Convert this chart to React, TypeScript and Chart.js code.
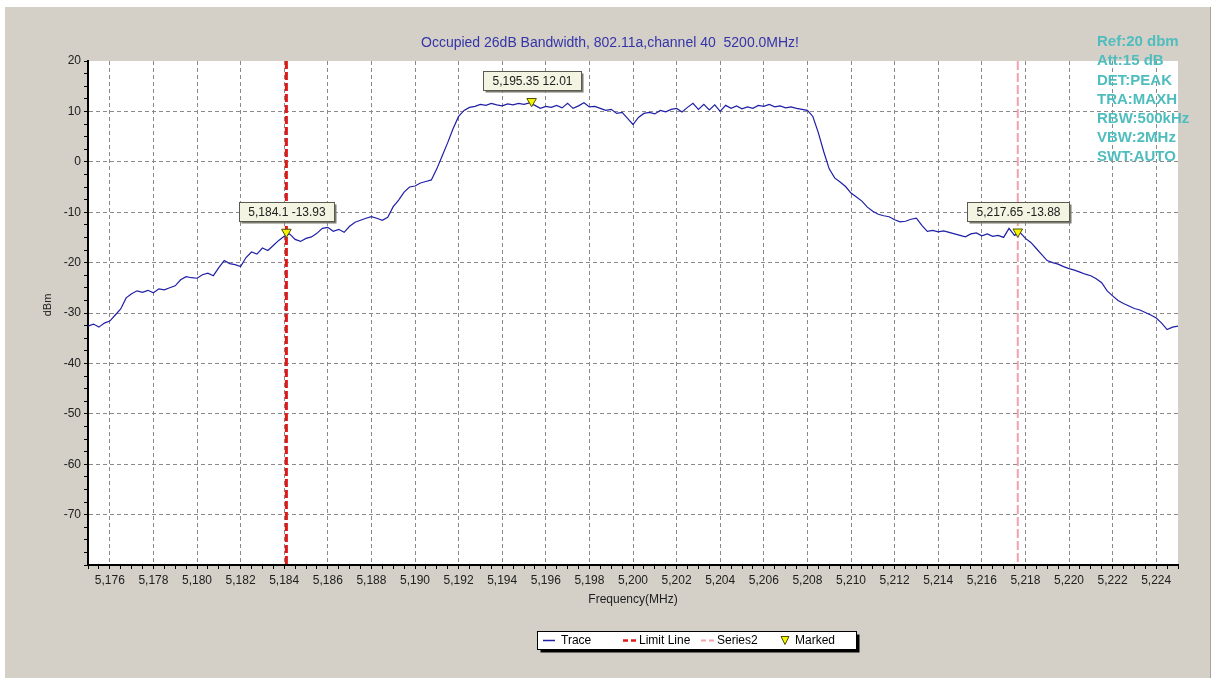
import React, { useEffect, useRef } from "react";
import { Chart, registerables } from "chart.js";

Chart.register(...registerables);

// ---------- data ----------
const TITLE = "Occupied 26dB Bandwidth, 802.11a,channel 40  5200.0MHz!";
const INFO_LINES = ["Ref:20 dbm", "Att:15 dB", "DET:PEAK", "TRA:MAXH", "RBW:500kHz", "VBW:2MHz", "SWT:AUTO"];
const X_TITLE = "Frequency(MHz)";
const Y_TITLE = "dBm";

const X_MIN = 5175;
const X_MAX = 5225;
const Y_MIN = -80;
const Y_MAX = 20;

// sweep points: 5175.00 MHz .. 5225.00 MHz every 0.25 MHz
const FREQ_START = 5175;
const FREQ_STEP = 0.25;
const TRACE_DBM = [
  -32.6, -32.2, -32.8, -32.0, -31.6, -30.4, -29.2, -27.0, -26.2, -25.6,
  -25.9, -25.5, -26.0, -25.2, -25.4, -25.0, -24.6, -23.4, -22.8, -23.0,
  -23.1, -22.4, -22.1, -22.6, -21.0, -19.6, -20.2, -20.4, -20.8, -19.0,
  -17.9, -18.3, -17.1, -17.6, -16.6, -15.6, -14.8, -14.3, -15.4, -15.8,
  -15.2, -14.9, -14.2, -13.2, -13.0, -13.8, -13.4, -14.0, -12.8, -12.0,
  -11.6, -11.2, -10.9, -11.2, -11.6, -11.0, -8.9, -7.6, -6.0, -5.0,
  -4.8, -4.2, -3.9, -3.6, -1.4, 1.2, 3.8, 6.6, 9.0, 10.2,
  10.8, 11.0, 11.4, 11.2, 11.6, 11.3, 11.1, 11.5, 11.3, 11.6,
  11.4, 11.7, 11.2, 10.6, 11.0, 10.8, 11.2, 10.7, 11.6, 10.6,
  11.1, 11.7, 10.9, 11.0, 10.6, 10.2, 10.4, 9.6, 9.8, 8.6,
  7.4, 8.8, 9.6, 9.8, 9.5, 10.2, 9.9, 10.4, 10.6, 9.9,
  10.8, 11.6, 10.4, 11.4, 10.3, 11.3, 10.0, 11.2, 10.6, 11.1,
  10.5, 10.9, 10.6, 11.2, 11.0, 11.4, 10.9, 11.1, 10.7, 10.9,
  10.6, 10.4, 10.2, 9.0, 5.8, 2.0, -1.4, -3.2, -4.0, -4.9,
  -6.2, -7.0, -7.8, -9.0, -9.8, -10.4, -10.7, -10.9, -11.5, -11.9,
  -11.8, -11.4, -11.2, -12.6, -13.8, -13.6, -13.9, -13.7, -14.0, -14.3,
  -14.6, -14.9, -14.3, -14.1, -14.7, -14.3, -14.8, -14.6, -15.0, -13.2,
  -14.6, -14.0, -15.2, -16.0, -17.2, -18.4, -19.6, -20.0, -20.3, -20.8,
  -21.2, -21.5, -21.9, -22.3, -22.6, -23.2, -24.0, -25.6, -26.6, -27.5,
  -28.1, -28.6, -29.1, -29.4, -29.9, -30.4, -31.0, -32.0, -33.3, -32.8,
  -32.6,
];

const MARKER_FREQ = [5184.1, 5195.35, 5217.65];
const MARKER_DBM = [-13.93, 12.01, -13.88];
const MARKER_LABELS = ["5,184.1 -13.93", "5,195.35 12.01", "5,217.65 -13.88"];

const LIMIT_LINE_FREQ = 5184.1;
const SERIES2_FREQ = 5217.65;

const LEGEND_LABELS = ["Trace", "Limit Line", "Series2", "Marked"];

// ---------- styles ----------
const FONT = '"Liberation Sans", Arial, sans-serif';
const PANEL_BG = "#d4d0c8";
const TRACE_COLOR = "#1f1fa6";
const LIMIT_COLOR = "#e01818";
const SERIES2_COLOR = "#f2a2aa";
const MARK_FILL = "#f4f400";
const MARK_BORDER = "#505000";
const GRID_COLOR = "#8a8a8a";
const INFO_COLOR = "#4fbdbd";
const TITLE_COLOR = "#3434a8";

const isInt = (v: number) => Math.abs(v - Math.round(v)) < 1e-6;
const fmtThousands = (v: number) => {
  const s = String(Math.round(v));
  return s.length > 3 ? s.slice(0, s.length - 3) + "," + s.slice(s.length - 3) : s;
};

const backgroundPlugin = {
  id: "bgPanel",
  beforeDraw(chart: any) {
    const { ctx, width, height, chartArea } = chart;
    ctx.save();
    ctx.fillStyle = "#ffffff";
    ctx.fillRect(0, 0, width, height);
    ctx.fillStyle = PANEL_BG;
    ctx.fillRect(5, 7, 1206, height - 7);
    ctx.fillStyle = "#a8a49c";
    ctx.fillRect(1210, 7, 1, height - 7);
    ctx.fillStyle = "#ffffff";
    ctx.fillRect(chartArea.left, chartArea.top, chartArea.right - chartArea.left, chartArea.bottom - chartArea.top);
    ctx.restore();
  },
};

const overlayPlugin = {
  id: "overlays",
  afterDraw(chart: any) {
    const { ctx, chartArea, scales } = chart;
    const xs = scales.x;
    const ys = scales.y;
    ctx.save();

    // title
    ctx.fillStyle = TITLE_COLOR;
    ctx.font = `14px ${FONT}`;
    ctx.textAlign = "center";
    ctx.textBaseline = "middle";
    ctx.fillText(TITLE, 610, 43);

    // axis titles
    ctx.fillStyle = "#202020";
    ctx.font = `12px ${FONT}`;
    ctx.fillText(X_TITLE, (chartArea.left + chartArea.right) / 2, 600);
    ctx.save();
    ctx.translate(48, 305);
    ctx.rotate(-Math.PI / 2);
    ctx.font = `11px ${FONT}`;
    ctx.fillText(Y_TITLE, 0, 0);
    ctx.restore();

    // marker labels
    ctx.font = `12px ${FONT}`;
    for (let i = 0; i < MARKER_FREQ.length; i++) {
      const px = xs.getPixelForValue(MARKER_FREQ[i]);
      const py = ys.getPixelForValue(MARKER_DBM[i]);
      const tw = ctx.measureText(MARKER_LABELS[i]).width;
      const w = Math.round(tw + 18);
      const h = 19;
      const bx = Math.round(px - w / 2) + 0.5;
      const by = Math.round(py - 11 - h) + 0.5;
      ctx.fillStyle = "#7a7a70";
      ctx.fillRect(bx + 2, by + 2, w, h);
      ctx.fillStyle = "#f4f4e2";
      ctx.fillRect(bx, by, w, h);
      ctx.strokeStyle = "#5a5a50";
      ctx.lineWidth = 1;
      ctx.strokeRect(bx, by, w, h);
      ctx.fillStyle = "#202020";
      ctx.textAlign = "center";
      ctx.fillText(MARKER_LABELS[i], bx + w / 2, by + h / 2 + 1);
    }

    // info block
    ctx.fillStyle = INFO_COLOR;
    ctx.font = `bold 15px ${FONT}`;
    ctx.textAlign = "left";
    for (let i = 0; i < INFO_LINES.length; i++) {
      ctx.fillText(INFO_LINES[i], 1097, 42 + i * 19.2);
    }

    // legend
    const lx = 537.5, ly = 631.5, lw = 319, lh = 18;
    ctx.fillStyle = "#000000";
    ctx.fillRect(lx + 3, ly + 3, lw, lh);
    ctx.fillStyle = "#ffffff";
    ctx.fillRect(lx, ly, lw, lh);
    ctx.strokeStyle = "#000000";
    ctx.lineWidth = 1;
    ctx.strokeRect(lx, ly, lw, lh);
    const cy = ly + lh / 2;
    ctx.font = `12px ${FONT}`;
    ctx.fillStyle = "#000000";
    ctx.textBaseline = "middle";
    // Trace
    ctx.strokeStyle = TRACE_COLOR;
    ctx.lineWidth = 1.5;
    ctx.beginPath(); ctx.moveTo(543, cy); ctx.lineTo(555, cy); ctx.stroke();
    ctx.fillText(LEGEND_LABELS[0], 561, cy);
    // Limit line
    ctx.strokeStyle = LIMIT_COLOR;
    ctx.lineWidth = 2.5;
    ctx.setLineDash([5, 3]);
    ctx.beginPath(); ctx.moveTo(623, cy); ctx.lineTo(637, cy); ctx.stroke();
    ctx.fillText(LEGEND_LABELS[1], 639, cy);
    // Series2
    ctx.strokeStyle = SERIES2_COLOR;
    ctx.lineWidth = 2;
    ctx.beginPath(); ctx.moveTo(701, cy); ctx.lineTo(714, cy); ctx.stroke();
    ctx.setLineDash([]);
    ctx.fillText(LEGEND_LABELS[2], 717, cy);
    // Marked
    ctx.fillStyle = MARK_FILL;
    ctx.strokeStyle = MARK_BORDER;
    ctx.lineWidth = 1;
    ctx.beginPath();
    ctx.moveTo(781, cy - 4); ctx.lineTo(789, cy - 4); ctx.lineTo(785, cy + 4); ctx.closePath();
    ctx.fill(); ctx.stroke();
    ctx.fillStyle = "#000000";
    ctx.fillText(LEGEND_LABELS[3], 795, cy);

    ctx.restore();
  },
};

export default function App() {
  const canvasRef = useRef<HTMLCanvasElement | null>(null);

  useEffect(() => {
    const canvas = canvasRef.current;
    if (!canvas) return;

    const traceData = TRACE_DBM.map((v, i) => ({ x: FREQ_START + i * FREQ_STEP, y: v }));
    const markerData = MARKER_FREQ.map((f, i) => ({ x: f, y: MARKER_DBM[i] }));

    const chart = new Chart(canvas, {
      type: "line",
      data: {
        datasets: [
          {
            label: "Marked",
            data: markerData,
            showLine: false,
            pointStyle: "triangle",
            rotation: 180,
            pointRadius: 5.5,
            pointBackgroundColor: MARK_FILL,
            pointBorderColor: MARK_BORDER,
            pointBorderWidth: 1,
            order: 0,
          },
          {
            label: "Limit Line",
            data: [{ x: LIMIT_LINE_FREQ, y: Y_MAX }, { x: LIMIT_LINE_FREQ, y: Y_MIN }],
            borderColor: LIMIT_COLOR,
            borderWidth: 3,
            borderDash: [8, 3],
            pointRadius: 0,
            order: 1,
          },
          {
            label: "Series2",
            data: [{ x: SERIES2_FREQ, y: Y_MAX }, { x: SERIES2_FREQ, y: Y_MIN }],
            borderColor: SERIES2_COLOR,
            borderWidth: 2,
            borderDash: [9, 3],
            pointRadius: 0,
            order: 2,
          },
          {
            label: "Trace",
            data: traceData,
            borderColor: TRACE_COLOR,
            borderWidth: 1.2,
            pointRadius: 0,
            tension: 0,
            order: 3,
          },
        ],
      },
      options: {
        animation: false,
        responsive: false,
        devicePixelRatio: 1,
        layout: { padding: { top: 61, right: 36, left: 0, bottom: 0 } },
        plugins: {
          legend: { display: false },
          title: { display: false },
          tooltip: { enabled: false },
        },
        scales: {
          x: {
            type: "linear",
            min: X_MIN,
            max: X_MAX,
            afterFit: (s: any) => { s.height = 113; },
            border: { display: true, color: "#000000", width: 2, dash: [4, 3] },
            grid: {
              color: (c: any) => {
                const v = c.tick ? c.tick.value : NaN;
                return isInt(v) && Math.round(v) % 2 === 0 && v > X_MIN && v < X_MAX ? GRID_COLOR : "rgba(0,0,0,0)";
              },
              lineWidth: 1,
              tickColor: "#000000",
              tickLength: 4,
              tickWidth: 1,
            },
            ticks: {
              stepSize: 0.5,
              autoSkip: false,
              maxRotation: 0,
              minRotation: 0,
              padding: 4,
              color: "#202020",
              font: { family: FONT, size: 12 },
              callback: (v: any) => {
                const n = Number(v);
                return isInt(n) && Math.round(n) % 2 === 0 ? fmtThousands(n) : "";
              },
            },
          },
          y: {
            type: "linear",
            min: Y_MIN,
            max: Y_MAX,
            afterFit: (s: any) => { s.width = 88; },
            border: { display: true, color: "#000000", width: 2, dash: [4, 3] },
            grid: {
              color: (c: any) => {
                const v = c.tick ? c.tick.value : NaN;
                return isInt(v) && Math.round(v) % 10 === 0 && v > Y_MIN && v < Y_MAX ? GRID_COLOR : "rgba(0,0,0,0)";
              },
              lineWidth: 1,
              tickColor: "#000000",
              tickLength: 4,
              tickWidth: 1,
            },
            ticks: {
              stepSize: 2.5,
              autoSkip: false,
              padding: 3,
              color: "#202020",
              font: { family: FONT, size: 12 },
              callback: (v: any) => {
                const n = Number(v);
                return isInt(n) && Math.round(n) % 10 === 0 && n > Y_MIN ? String(Math.round(n)) : "";
              },
            },
          },
        },
      },
      plugins: [backgroundPlugin, overlayPlugin],
    });

    return () => chart.destroy();
  }, []);

  return (
    <div style={{ position: "absolute", left: 0, top: 0, width: 1214, height: 678, overflow: "hidden" }}>
      <canvas ref={canvasRef} width={1214} height={678} style={{ display: "block", width: 1214, height: 678 }} />
    </div>
  );
}
